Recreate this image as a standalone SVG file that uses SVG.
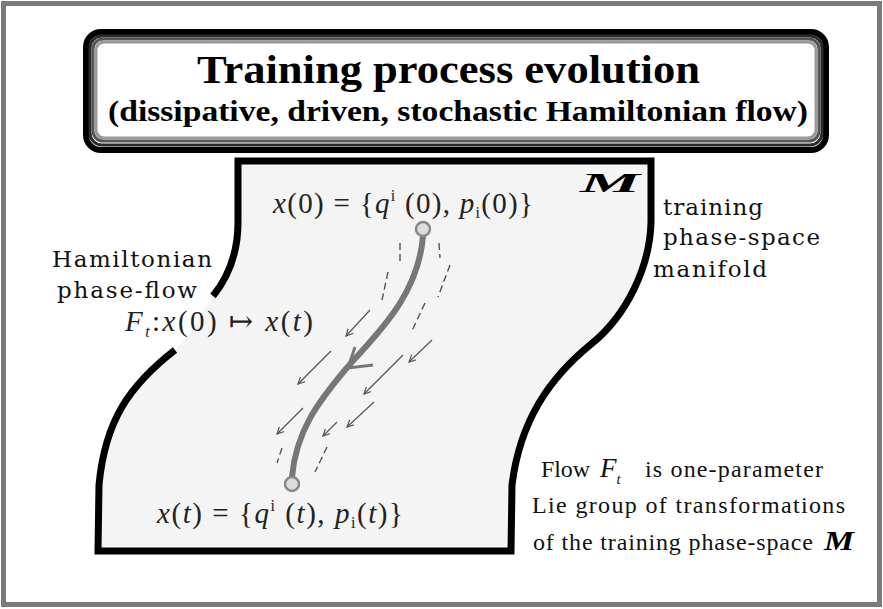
<svg xmlns="http://www.w3.org/2000/svg" width="883" height="609" viewBox="0 0 883 609">
  <defs>
    <style>
      .lbl { font-family: "DejaVu Serif", "Liberation Serif", serif; font-size: 23px; fill: #111; }
      .math { font-family: "Liberation Serif", "DejaVu Serif", serif; font-size: 29px; fill: #222; }
      .note { font-family: "Liberation Serif", "DejaVu Serif", serif; font-size: 24px; fill: #111; }
      .it { font-style: italic; }
      .ttl { font-family: "Liberation Serif", serif; font-weight: bold; fill: #000; }
      .flow { fill: none; stroke: #555; stroke-width: 1.2; }
      .dash { fill: none; stroke: #555; stroke-width: 1.4; stroke-dasharray: 7 4; }
    </style>
    <marker id="ah" viewBox="0 0 8 8" refX="7" refY="4" markerWidth="8" markerHeight="8" markerUnits="userSpaceOnUse" orient="auto">
      <path d="M0,0.5 L7,4 L0,7.5" fill="none" stroke="#555" stroke-width="1.2"/>
    </marker>
  </defs>

  <rect width="883" height="609" fill="#ffffff"/>

  <g id="frame">
    <rect x="3.5" y="3.5" width="876" height="601" fill="none" stroke="#7a7a7a" stroke-width="5"/>
  </g>

  <g id="title">
    <rect x="86" y="32" width="740" height="118" rx="15" fill="#fff" stroke="#000" stroke-width="6"/>
    <rect x="90" y="36" width="732" height="109" rx="12" fill="none" stroke="#2a2a2a" stroke-width="3"/>
    <rect x="93" y="39" width="726" height="102" rx="10" fill="none" stroke="#555" stroke-width="3"/>
    <rect x="96" y="42" width="720" height="96" rx="8" fill="none" stroke="#999" stroke-width="3"/>
    <text class="ttl" x="197" y="83" font-size="40" textLength="503" lengthAdjust="spacingAndGlyphs">Training process evolution</text>
    <text class="ttl" x="108" y="121" font-size="29" textLength="700" lengthAdjust="spacingAndGlyphs">(dissipative, driven, stochastic Hamiltonian flow)</text>
  </g>

  <g id="manifold">
    <path d="M238,161 L651,161 L651,222 C650,265 628,315 590,345 C550,378 520,420 512,485 L511,551 L98,551 L99,485 C105,420 130,385 175,350 C190,335 200,315 213,296 C230,275 238,250 238,222 Z" fill="#f4f4f4" stroke="none"/>
    <path d="M213,296 C230,275 238,250 238,222 L238,161 L651,161 L651,222 C650,265 628,315 590,345 C550,378 520,420 512,485 L511,551 L98,551 L99,485 C105,420 130,385 175,350" fill="none" stroke="#000" stroke-width="7" stroke-linejoin="miter"/>
    <text x="580" y="192" font-family="Liberation Serif, serif" font-weight="bold" font-style="italic" font-size="27" textLength="60" lengthAdjust="spacingAndGlyphs">M</text>
  </g>

  <g id="connectors">
    <path d="M423,236 C418,300 370,340 345,370 C320,400 296,430 292,477" fill="none" stroke="#777" stroke-width="6"/>
    <path d="M355,347 L348,368 L373,365" fill="none" stroke="#777" stroke-width="3"/>
    <line class="flow" x1="370" y1="310" x2="346" y2="336" marker-end="url(#ah)"/>
    <line class="flow" x1="331" y1="351" x2="298" y2="384" marker-end="url(#ah)"/>
    <line class="flow" x1="432" y1="340" x2="409" y2="362" marker-end="url(#ah)"/>
    <line class="flow" x1="403" y1="355" x2="364" y2="394" marker-end="url(#ah)"/>
    <line class="flow" x1="303" y1="408" x2="277" y2="434" marker-end="url(#ah)"/>
    <line class="flow" x1="337" y1="422" x2="323" y2="436" marker-end="url(#ah)"/>
    <line class="flow" x1="374" y1="402" x2="347" y2="427" marker-end="url(#ah)"/>
    <line class="dash" x1="400" y1="243" x2="400" y2="263"/>
    <line class="dash" x1="439" y1="243" x2="440" y2="258"/>
    <line class="dash" x1="388" y1="272" x2="382" y2="300"/>
    <line class="dash" x1="450" y1="265" x2="438" y2="297"/>
    <line class="dash" x1="425" y1="303" x2="411" y2="333"/>
    <line class="dash" x1="282" y1="448" x2="277" y2="463"/>
    <line class="dash" x1="327" y1="447" x2="315" y2="472"/>
  </g>

  <g id="start">
    <circle cx="423" cy="229" r="7" fill="#ddd" stroke="#888" stroke-width="2.5"/>
    <text class="math" x="273" y="213" textLength="260" lengthAdjust="spacing"><tspan class="it">x</tspan>(0) = {<tspan class="it">q</tspan><tspan font-size="16" dy="-12">i</tspan><tspan dy="12"> (0), </tspan><tspan class="it">p</tspan><tspan font-size="16" dy="5">i</tspan><tspan dy="-5">(0)}</tspan></text>
  </g>

  <g id="end">
    <circle cx="292" cy="484" r="7" fill="#ddd" stroke="#888" stroke-width="2.5"/>
    <text class="math" x="157" y="523" textLength="246" lengthAdjust="spacing"><tspan class="it">x</tspan>(<tspan class="it">t</tspan>) = {<tspan class="it">q</tspan><tspan font-size="16" dy="-12">i</tspan><tspan dy="12"> (</tspan><tspan class="it">t</tspan>), <tspan class="it">p</tspan><tspan font-size="16" dy="5">i</tspan><tspan dy="-5">(</tspan><tspan class="it">t</tspan>)}</text>
  </g>

  <g id="label-hamiltonian">
    <text class="lbl" x="52" y="267" textLength="160" lengthAdjust="spacing">Hamiltonian</text>
    <text class="lbl" x="57" y="298" textLength="140" lengthAdjust="spacing">phase-flow</text>
    <text class="math" x="125" y="331" textLength="188" lengthAdjust="spacing"><tspan class="it">F</tspan><tspan class="it" font-size="16" dy="6">t</tspan><tspan dy="-6">:</tspan><tspan class="it">x</tspan>(0) ↦ <tspan class="it">x</tspan>(<tspan class="it">t</tspan>)</text>
  </g>

  <g id="label-manifold">
    <text class="lbl" x="663" y="215" textLength="100" lengthAdjust="spacing">training</text>
    <text class="lbl" x="663" y="245" textLength="157" lengthAdjust="spacing">phase-space</text>
    <text class="lbl" x="653" y="277" textLength="114" lengthAdjust="spacing">manifold</text>
  </g>

  <g id="label-flow">
    <text class="note" x="541" y="477" textLength="49" lengthAdjust="spacing">Flow</text>
    <text class="note" x="600" y="477" style="font-size:27px;font-style:italic"><tspan>F</tspan><tspan dy="7" style="font-size:15px">t</tspan></text>
    <text class="note" x="645" y="477" textLength="178" lengthAdjust="spacing">is one-parameter</text>
    <text class="note" x="532" y="513" textLength="313" lengthAdjust="spacing">Lie group of transformations</text>
    <text class="note" x="533" y="550" textLength="280" lengthAdjust="spacing">of the training phase-space</text>
    <text x="824" y="550" font-family="Liberation Serif, serif" font-weight="bold" font-style="italic" font-size="27" textLength="30" lengthAdjust="spacingAndGlyphs">M</text>
  </g>
</svg>
